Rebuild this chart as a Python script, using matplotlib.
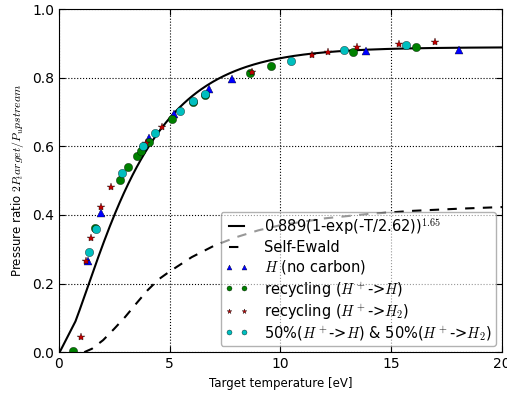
import numpy as np
import matplotlib
matplotlib.use("Agg")
import matplotlib.pyplot as plt

plt.rcParams['mathtext.fontset'] = 'cm'

# Fit parameters
fit_a, fit_tau, fit_p = 0.889, 2.62, 1.65

# Self-Ewald curve
ewald_T = [1.15, 1.5, 2.0, 2.5, 3.0, 3.5, 4.0, 4.5, 5.0, 6.0, 7.0, 8.0, 9.0, 10.0, 12.0, 14.0, 16.0, 18.0, 20.0]
ewald_v = [0.0, 0.01, 0.035, 0.068, 0.103, 0.142, 0.18, 0.212, 0.235, 0.277, 0.31, 0.335, 0.355, 0.37, 0.39, 0.403, 0.412, 0.418, 0.423]

# H (no carbon)
h_T = [1.30, 1.90, 4.06, 5.19, 6.79, 7.83, 13.86, 18.04]
h_v = [0.266, 0.406, 0.625, 0.693, 0.766, 0.796, 0.878, 0.880]

# recycling H+ -> H
rh_T = [0.65, 1.62, 2.75, 3.13, 3.52, 3.69, 4.06, 5.09, 6.06, 6.59, 8.65, 9.59, 13.29, 16.12]
rh_v = [0.004, 0.362, 0.503, 0.540, 0.573, 0.586, 0.613, 0.680, 0.730, 0.751, 0.813, 0.834, 0.874, 0.890]

# recycling H+ -> H2
rh2_T = [0.98, 1.22, 1.44, 1.90, 2.36, 3.92, 4.64, 8.74, 11.44, 12.16, 13.47, 15.34, 17.0]
rh2_v = [0.043, 0.265, 0.334, 0.422, 0.482, 0.611, 0.657, 0.817, 0.866, 0.875, 0.889, 0.899, 0.904]

# 50% / 50%
mix_T = [1.34, 1.66, 2.84, 3.79, 4.35, 5.46, 6.06, 6.62, 10.5, 12.88, 15.65]
mix_v = [0.291, 0.360, 0.523, 0.601, 0.640, 0.703, 0.733, 0.754, 0.849, 0.880, 0.894]

xticks = [0, 5, 10, 15, 20]
yticks = [0.0, 0.2, 0.4, 0.6, 0.8, 1.0]

fig = plt.figure(figsize=(5.07, 3.97), dpi=100)
ax = fig.add_axes([0.116, 0.113, 0.874, 0.864])

Tfit = np.concatenate(([0.05], np.linspace(0.75, 20, 300)))
ax.plot(Tfit, fit_a * (1 - np.exp(-Tfit / fit_tau)) ** fit_p, 'k-', lw=1.5,
        label=r'0.889(1-exp(-T/2.62))$^{1.65}$')
ax.plot(ewald_T, ewald_v, color='k', ls='--', dashes=(4.5, 4), lw=1.5, label='Self-Ewald')
ax.plot(h_T, h_v, '^', color='b', ms=6, mec='k', mew=0.25, ls='none', label=r'$H$ (no carbon)')
ax.plot(rh_T, rh_v, 'o', color='g', ms=6, mec='k', mew=0.25, ls='none', label=r'recycling ($H^+$->$H$)')
ax.plot(rh2_T, rh2_v, '*', color='#c00000', ms=6, mec='k', mew=0.25, ls='none', label=r'recycling ($H^+$->$H_2$)')
ax.plot(mix_T, mix_v, 'o', color='c', ms=6, mec='k', mew=0.25, ls='none',
        label=r'50%($H^+$->$H$) & 50%($H^+$->$H_2$)')

ax.set_xlim(0, 20)
ax.set_ylim(0, 1.0)
ax.set_xticks(xticks)
ax.set_yticks(yticks)
ax.set_yticklabels(['%.1f' % y for y in yticks])
ax.tick_params(direction='in', top=True, right=True, labelsize=10, length=4)
ax.grid(True, color='k', linestyle=':', linewidth=0.8)
ax.set_xlabel('Target temperature [eV]', fontsize=8.5)
ax.set_ylabel(r'Pressure ratio $2P_target/P_upstream$', fontsize=8.5)

leg = ax.legend(loc='lower right', numpoints=2, markerscale=0.6, fontsize=10.5,
                framealpha=0.6, handlelength=1.6, handletextpad=1.1, borderpad=0.3,
                labelspacing=0.22, borderaxespad=0.4, fancybox=True, edgecolor='0.5')

fig.savefig('out.png', dpi=100)
